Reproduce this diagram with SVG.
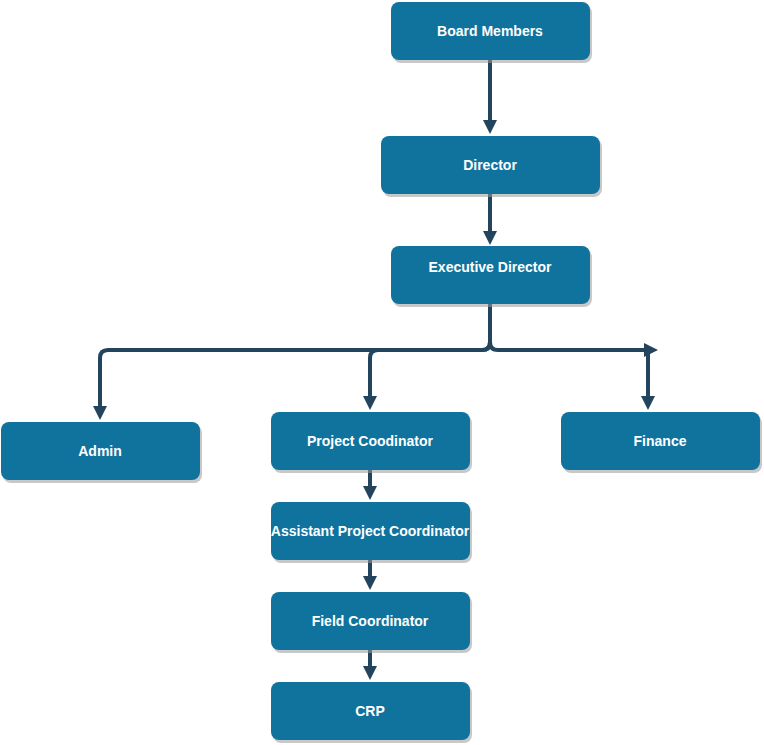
<svg xmlns="http://www.w3.org/2000/svg" width="764" height="745" viewBox="0 0 764 745">
<style>
.box{fill:#10739E;}
.sh{fill:#9a9a9a;opacity:0.55;}
.lbl{fill:#ffffff;font-family:"Liberation Sans",Arial,sans-serif;font-weight:bold;font-size:14px;text-anchor:middle;}
.con{fill:none;stroke:#23445D;stroke-width:4;stroke-linejoin:round;}
</style>
<defs>
<marker id="arr" markerUnits="userSpaceOnUse" markerWidth="14" markerHeight="14" refX="8" refY="7" orient="auto">
<path d="M0,0 L14,7 L0,14 z" fill="#23445D"/>
</marker>
</defs>
<rect width="764" height="745" fill="#ffffff"/>
<g id="connectors">
<path class="con" d="M490 60 V128" marker-end="url(#arr)"/>
<path class="con" d="M490 194 V239" marker-end="url(#arr)"/>
<path class="con" d="M490 304 V342 Q490 350 482 350 H108 Q100 350 100 358 V414" marker-end="url(#arr)"/>
<path class="con" d="M490 342 Q490 350 482 350 H378 Q370 350 370 358 V404" marker-end="url(#arr)"/>
<path class="con" d="M490 342 Q490 350 498 350 H652" marker-end="url(#arr)"/>
<path class="con" d="M648 350 V404" marker-end="url(#arr)"/>
<path class="con" d="M370 470 V494" marker-end="url(#arr)"/>
<path class="con" d="M370 560 V584" marker-end="url(#arr)"/>
<path class="con" d="M370 650 V674" marker-end="url(#arr)"/>
</g>
<g id="board">
<rect class="sh" x="393" y="5" width="199" height="58" rx="8"/>
<rect class="box" x="391" y="2" width="199" height="58" rx="8"/>
<text class="lbl" x="490" y="36">Board Members</text>
</g>
<g id="director">
<rect class="sh" x="383" y="139" width="219" height="58" rx="8"/>
<rect class="box" x="381" y="136" width="219" height="58" rx="8"/>
<text class="lbl" x="490" y="170">Director</text>
</g>
<g id="exec">
<rect class="sh" x="393" y="249" width="199" height="58" rx="8"/>
<rect class="box" x="391" y="246" width="199" height="58" rx="8"/>
<text class="lbl" x="490" y="272">Executive Director</text>
</g>
<g id="admin">
<rect class="sh" x="3" y="425" width="199" height="58" rx="8"/>
<rect class="box" x="1" y="422" width="199" height="58" rx="8"/>
<text class="lbl" x="100" y="456">Admin</text>
</g>
<g id="pc">
<rect class="sh" x="273" y="415" width="199" height="58" rx="8"/>
<rect class="box" x="271" y="412" width="199" height="58" rx="8"/>
<text class="lbl" x="370" y="446">Project Coodinator</text>
</g>
<g id="finance">
<rect class="sh" x="563" y="415" width="199" height="58" rx="8"/>
<rect class="box" x="561" y="412" width="199" height="58" rx="8"/>
<text class="lbl" x="660" y="446">Finance</text>
</g>
<g id="apc">
<rect class="sh" x="273" y="505" width="199" height="58" rx="8"/>
<rect class="box" x="271" y="502" width="199" height="58" rx="8"/>
<text class="lbl" x="370" y="536">Assistant Project Coordinator</text>
</g>
<g id="fc">
<rect class="sh" x="273" y="595" width="199" height="58" rx="8"/>
<rect class="box" x="271" y="592" width="199" height="58" rx="8"/>
<text class="lbl" x="370" y="626">Field Coordinator</text>
</g>
<g id="crp">
<rect class="sh" x="273" y="685" width="199" height="58" rx="8"/>
<rect class="box" x="271" y="682" width="199" height="58" rx="8"/>
<text class="lbl" x="370" y="716">CRP</text>
</g>
</svg>
